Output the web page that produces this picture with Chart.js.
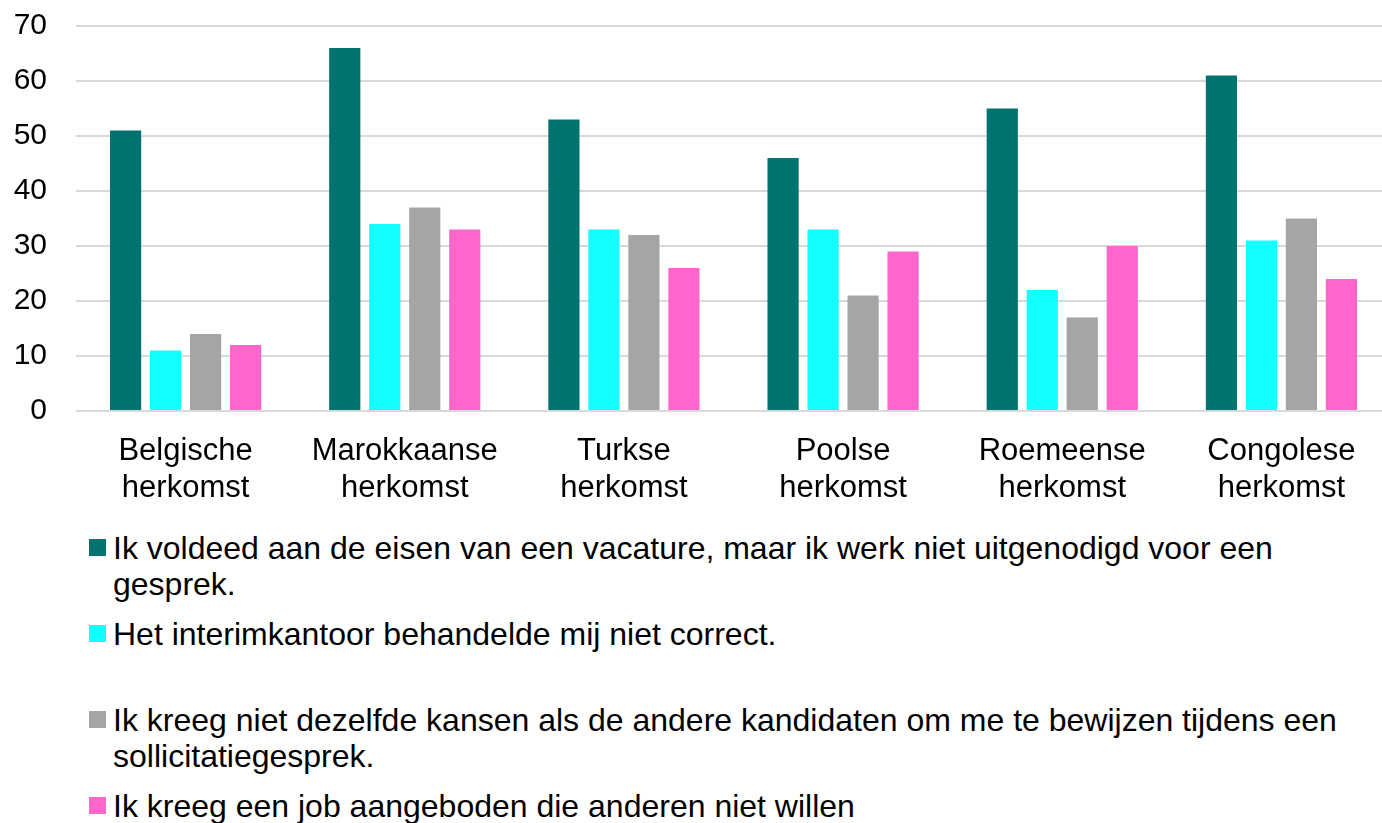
<!DOCTYPE html>
<html>
<head>
<meta charset="utf-8">
<script src="https://cdn.jsdelivr.net/npm/chart.js@4.4.0/dist/chart.umd.min.js"></script>
<style>
  body { margin: 0; background: #fff; width: 1382px; height: 823px; overflow: hidden; position: relative; font-family: "Liberation Sans", Arial, sans-serif; }
  #wrap { position: absolute; left: 0; top: 0; width: 1391px; height: 520px; }
  #legend { position: absolute; left: 89px; top: 530px; width: 1280px; font-size: 32px; line-height: 36px; color: #000; }
  .item { position: relative; padding-left: 24px; margin-bottom: 14px; max-width: 1240px; }
  .item .sw { position: absolute; left: 0; top: 9px; width: 17px; height: 17px; }
  .item.extra { padding-bottom: 36px; }
</style>
</head>
<body>
<div id="wrap"><canvas id="mycanvas"></canvas></div>
<div id="legend"></div>
<script>
var categories = [
  ['Belgische', 'herkomst'],
  ['Marokkaanse', 'herkomst'],
  ['Turkse', 'herkomst'],
  ['Poolse', 'herkomst'],
  ['Roemeense', 'herkomst'],
  ['Congolese', 'herkomst']
];
var seriesLabels = [
  'Ik voldeed aan de eisen van een vacature, maar ik werk niet uitgenodigd voor een gesprek.',
  'Het interimkantoor behandelde mij niet correct.',
  'Ik kreeg niet dezelfde kansen als de andere kandidaten om me te bewijzen tijdens een sollicitatiegesprek.',
  'Ik kreeg een job aangeboden die anderen niet willen'
];
var eisen = [51, 66, 53, 46, 55, 61];
var interim = [11, 34, 33, 33, 22, 31];
var kansen = [14, 37, 32, 21, 17, 35];
var job = [12, 33, 26, 29, 30, 24];
var yTicks = [0, 10, 20, 30, 40, 50, 60, 70];

var colors = ['#007370', '#14FFFF', '#A5A5A5', '#FF66CC'];
var values = [eisen, interim, kansen, job];

var datasets = [];
for (var i in values) {
  datasets.push({
    label: seriesLabels[i],
    data: values[i],
    backgroundColor: colors[i],
    borderWidth: 0,
    categoryPercentage: 0.73,
    barPercentage: 0.78
  });
}

var ctx = document.getElementById('mycanvas');
var barGraph = new Chart(ctx, {
  type: 'bar',
  data: { labels: categories, datasets: datasets },
  options: {
    responsive: true,
    maintainAspectRatio: false,
    animation: false,
    layout: { padding: { left: 13, right: 0, top: 26, bottom: 0 } },
    plugins: { legend: { display: false }, tooltip: { enabled: false } },
    scales: {
      x: {
        grid: { display: false, drawTicks: false },
        border: { display: false },
        afterFit: function (axis) { axis.height = 109; },
        ticks: {
          color: '#000',
          padding: 22,
          maxRotation: 0,
          font: { family: '"Liberation Sans", Arial, sans-serif', size: 31, lineHeight: 1.2 }
        }
      },
      y: {
        min: yTicks[0],
        max: yTicks[yTicks.length - 1],
        afterBuildTicks: function (axis) {
          axis.ticks = yTicks.map(function (v) { return { value: v }; });
        },
        afterFit: function (axis) {
          axis.width = 63;
          axis.paddingTop = 0;
          axis.paddingBottom = 0;
        },
        grid: { color: '#D9D9D9', lineWidth: 2, drawTicks: false },
        border: { display: false },
        ticks: {
          color: '#000',
          padding: 29,
          font: { family: '"Liberation Sans", Arial, sans-serif', size: 30, lineHeight: 1.2 }
        }
      }
    }
  }
});

// legend below the chart, as html so long labels can wrap
var legend = document.getElementById('legend');
for (var i in seriesLabels) {
  var item = document.createElement('div');
  item.className = 'item' + (i == 1 ? ' extra' : '');
  var sw = document.createElement('span');
  sw.className = 'sw';
  sw.style.background = colors[i];
  item.appendChild(sw);
  item.appendChild(document.createTextNode(seriesLabels[i]));
  legend.appendChild(item);
}
</script>
</body>
</html>
